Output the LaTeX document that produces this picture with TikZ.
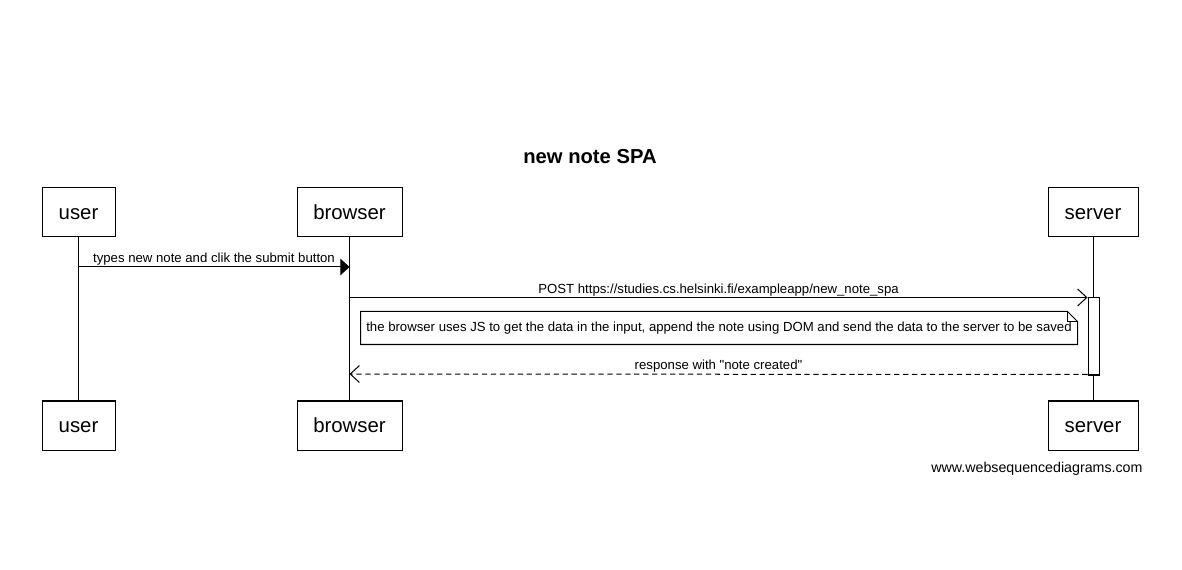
\documentclass[tikz,border=0pt]{standalone}
\usepackage{fontspec}
\setmainfont{Liberation Sans}
\usetikzlibrary{arrows.meta,positioning}
\newcommand\px{0.02cm}
\tikzset{
  every path/.style={line width=0.57pt},
  actor/.style={draw,fill=white,line width=0.57pt,minimum width=#1*\px,minimum height=49*\px,
    inner sep=0pt,text height=10pt,text depth=1.5pt,font=\fontsize{11.6}{13}\selectfont},
  actor/.default=90,
  call/.style={-{Triangle[length=5.2pt,width=9.4pt]}},
  post/.style={-{Straight Barb[length=5.2pt,width=9.6pt,line width=0.57pt]}},
  reply/.style={-{Straight Barb[length=5.2pt,width=9.6pt,line width=0.57pt]},dash pattern=on 3pt off 2.1pt},
  msg/.style={above,inner sep=0.7pt,font=\fontsize{7.5}{8.5}\selectfont},
  notebox/.style={inner sep=0pt,font=\fontsize{7.5}{8.5}\selectfont},
  act/.style={draw,fill=white,minimum width=11*\px,minimum height=77*\px,inner sep=0pt},
}
\begin{document}
\begin{tikzpicture}[x=0.02cm,y=-0.02cm]
  \useasboundingbox[fill=white] (0,0) rectangle (1182,570);
  \node[font=\fontsize{11.5}{13}\selectfont\bfseries] (title) at (590,157) {new note SPA};
  % participants
  \node[actor=73] (user) at (78.5,212.5) {user};
  \node[actor=105] (browser) at (349.5,212.5) {browser};
  \node[actor=90] (server) at (1093,212.5) {server};
  \node[actor=73] (user2) at (78.5,425.5) {user};
  \node[actor=105] (browser2) at (349.5,425.5) {browser};
  \node[actor=90] (server2) at (1093,425.5) {server};
  % lifelines
  \draw (user.south) -- (user2.north);
  \draw (browser.south) -- (browser2.north);
  \draw (server.south) -- (server2.north);
  \node[act] (act) at (1093.5,336.5) {};
  % messages
  \draw[call] (user.south |- 0,267) -- node[msg] {types new note and clik the submit button} (browser.south |- 0,267);
  \draw[post] (browser.south |- act.north west) -- node[msg] {POST https://studies.cs.helsinki.fi/exampleapp/new\_note\_spa} (act.north west);
  \node[notebox,minimum width=716*\px,minimum height=32*\px] (note) at (719,328)
    {the browser uses JS to get the data in the input, append the note using DOM and send the data to the server to be saved};
  \draw (note.south west) -- (note.north west) -- ([xshift=-0.2cm]note.north east)
    -- ([yshift=-0.2cm]note.north east) -- (note.south east) -- cycle;
  \draw ([xshift=-0.2cm]note.north east) |- ([yshift=-0.2cm]note.north east);
  \draw[reply] ([yshift=0.02cm]act.south west) -- node[msg] {response with \textquotedbl note created\textquotedbl} (browser.south |- 0,374);
  \node[anchor=east,inner sep=0pt,font=\fontsize{8.1}{9}\selectfont] (credit) at (1143,469) {www.websequencediagrams.com};
\end{tikzpicture}
\end{document}
